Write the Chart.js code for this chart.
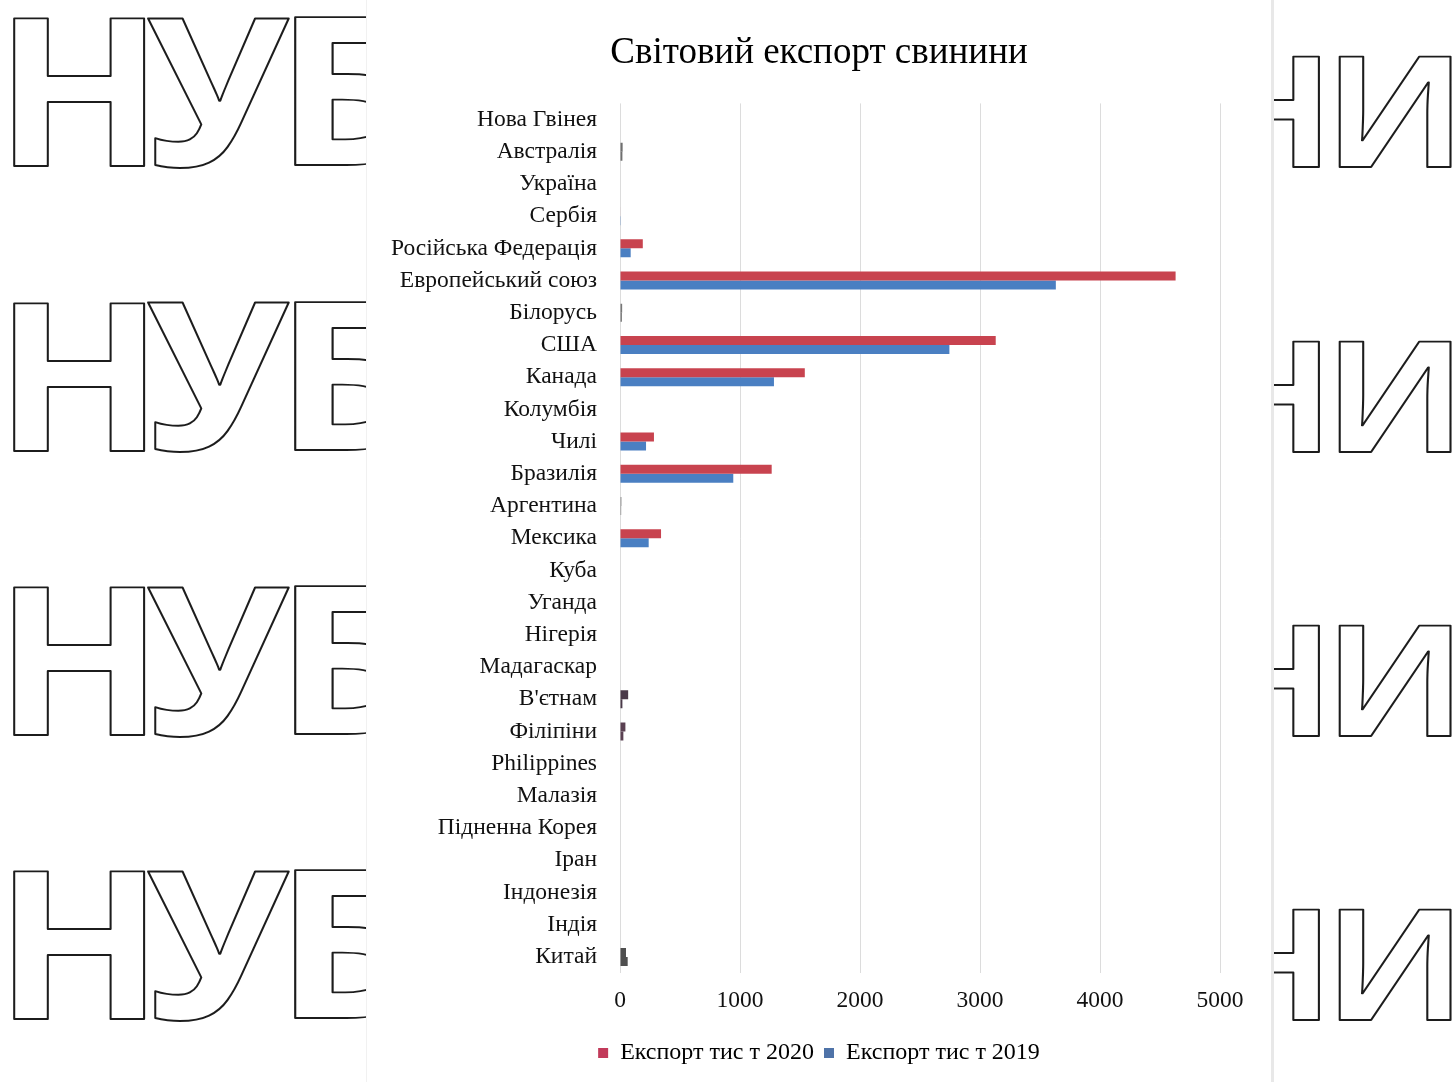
<!DOCTYPE html>
<html lang="uk">
<head>
<meta charset="utf-8">
<title>Світовий експорт свинини</title>
<script src="https://cdn.jsdelivr.net/npm/chart.js@4.4.0/dist/chart.umd.min.js"></script>
<style>
  html, body { margin: 0; padding: 0; background: #fff; }
  body { width: 1453px; height: 1082px; position: relative; overflow: hidden; }
  #backdrop { position: absolute; left: 0; top: 0; }
  #panel {
    position: absolute; left: 366px; top: 0;
    width: 904px; height: 1082px;
    background: #fff;
    border-left: 1px solid #f1f1f1;
    border-right: 3px solid #e8e8e8;
  }
  #panel canvas { display: block; }
</style>
</head>
<body>
<canvas id="backdrop" width="1453" height="1082"></canvas>
<div id="panel">
  <canvas id="porkChart" width="904" height="1082"></canvas>
</div>
<script>
// Категорії та значення (тис. т)
const categories = [
  'Нова Гвінея', 'Австралія', 'Україна', 'Сербія', 'Російська Федерація',
  'Европейський союз', 'Білорусь', 'США', 'Канада', 'Колумбія', 'Чилі',
  'Бразилія', 'Аргентина', 'Мексика', 'Куба', 'Уганда', 'Нігерія',
  'Мадагаскар', "В'єтнам", 'Філіпіни', 'Philippines', 'Малазія',
  'Підненна Корея', 'Іран', 'Індонезія', 'Індія', 'Китай'
];
const export2020 = [
  0, 22, 0, 4, 190,
  4630, 18, 3131, 1540, 0, 283,
  1264, 12, 342, 0, 0, 0,
  0, 68, 45, 0, 0,
  0, 0, 0, 0, 50
];
const export2019 = [
  0, 20, 0, 2, 89,
  3632, 16, 2745, 1283, 0, 217,
  944, 10, 239, 0, 0, 0,
  0, 20, 28, 0, 0,
  0, 0, 0, 0, 64
];
const xTicks = [0, 1000, 2000, 3000, 4000, 5000];
const seriesNames = ['Експорт тис т 2020', 'Експорт тис т 2019'];

// рядки з темнішими смугами
const darkBars = {
  'Австралія': '#6f6f6f', 'Білорусь': '#777777', 'Аргентина': '#8a8a8a',
  "В'єтнам": '#4a3a49', 'Філіпіни': '#5a4152', 'Китай': '#4f4f4f'
};

// фоновий контурний напис
function drawBackdrop() {
  const cv = document.getElementById('backdrop');
  const ctx = cv.getContext('2d');
  const rowsLeft = [0, 284.5, 569, 853];
  const glyphs = [
    { ch: 'Н', x0: 13, x1: 144, top: 18, base: 166 },
    { ch: 'У', x0: 147, x1: 289, top: 18, base: 168 },
    { ch: 'Б', x0: 294, x1: 420, top: 19, base: 165 },
    { ch: 'Н', x0: 1219, x1: 1319, top: 57, base: 167 },
    { ch: 'И', x0: 1339, x1: 1451, top: 57, base: 167 }
  ];
  ctx.font = 'bold 200px "Open Sans", "DejaVu Sans", sans-serif';
  ctx.textAlign = 'left';
  ctx.textBaseline = 'alphabetic';
  ctx.lineJoin = 'round';
  rowsLeft.forEach(dy => {
    glyphs.forEach(g => {
      const m = ctx.measureText(g.ch);
      const inkW = m.actualBoundingBoxLeft + m.actualBoundingBoxRight;
      const inkH = m.actualBoundingBoxAscent + m.actualBoundingBoxDescent;
      const sx = (g.x1 - g.x0) / inkW;
      const sy = (g.base - g.top) / inkH;
      ctx.save();
      ctx.translate(g.x0, g.top + dy);
      ctx.scale(sx, sy);
      ctx.fillStyle = '#fff';
      ctx.fillText(g.ch, m.actualBoundingBoxLeft, m.actualBoundingBoxAscent);
      ctx.lineWidth = 2 / ((sx + sy) / 2);
      ctx.strokeStyle = '#1c1c1c';
      ctx.strokeText(g.ch, m.actualBoundingBoxLeft, m.actualBoundingBoxAscent);
      ctx.restore();
    });
  });
}
drawBackdrop();

const serif = "'Liberation Serif', 'Times New Roman', serif";
const red = '#c8434f';
const blue = '#4a7fc2';

function barColor(base) {
  return ctx => darkBars[categories[ctx.dataIndex]] || base;
}

new Chart(document.getElementById('porkChart'), {
  type: 'bar',
  data: {
    labels: categories,
    datasets: [
      {
        label: seriesNames[0],
        data: export2020,
        backgroundColor: barColor(red),
        categoryPercentage: 0.56,
        barPercentage: 1.0
      },
      {
        label: seriesNames[1],
        data: export2019,
        backgroundColor: barColor(blue),
        categoryPercentage: 0.56,
        barPercentage: 1.0
      }
    ]
  },
  options: {
    indexAxis: 'y',
    responsive: false,
    animation: false,
    layout: { padding: { top: 0, right: 0, bottom: 7, left: 0 } },
    plugins: {
      title: {
        display: true,
        text: 'Світовий експорт свинини',
        color: '#000',
        font: { family: serif, size: 37, weight: 'normal' },
        padding: { top: 31, bottom: 28 }
      },
      legend: {
        position: 'bottom',
        labels: {
          color: '#222',
          font: { family: serif, size: 24 },
          boxWidth: 10,
          boxHeight: 10,
          padding: 10,
          generateLabels: chart => chart.data.datasets.map((ds, i) => ({
            text: ds.label,
            fillStyle: i === 0 ? '#c23a5a' : '#4f73a8',
            strokeStyle: 'rgba(0,0,0,0)',
            lineWidth: 0,
            datasetIndex: i
          }))
        }
      },
      tooltip: { enabled: false }
    },
    scales: {
      x: {
        min: 0,
        max: 5000,
        afterBuildTicks: scale => { scale.ticks = xTicks.map(v => ({ value: v })); },
        afterFit: scale => { scale.height = 58; },
        grid: { color: '#dcdcdc', lineWidth: 1, drawTicks: false },
        border: { display: false },
        ticks: {
          color: '#111',
          font: { family: serif, size: 23.5 },
          padding: 14,
          maxRotation: 0,
          callback: value => String(value)
        }
      },
      y: {
        afterFit: scale => { scale.width = 253; },
        grid: { display: false, drawTicks: false },
        border: { display: false },
        ticks: {
          autoSkip: false,
          color: '#111',
          font: { family: serif, size: 23.5 },
          padding: 23
        }
      },
      // порожня права вісь — лише відступ праворуч від області графіка
      yRight: {
        type: 'category',
        position: 'right',
        afterFit: scale => { scale.width = 51; },
        grid: { display: false, drawTicks: false },
        border: { display: false },
        ticks: { display: false }
      }
    }
  }
});
</script>
</body>
</html>
